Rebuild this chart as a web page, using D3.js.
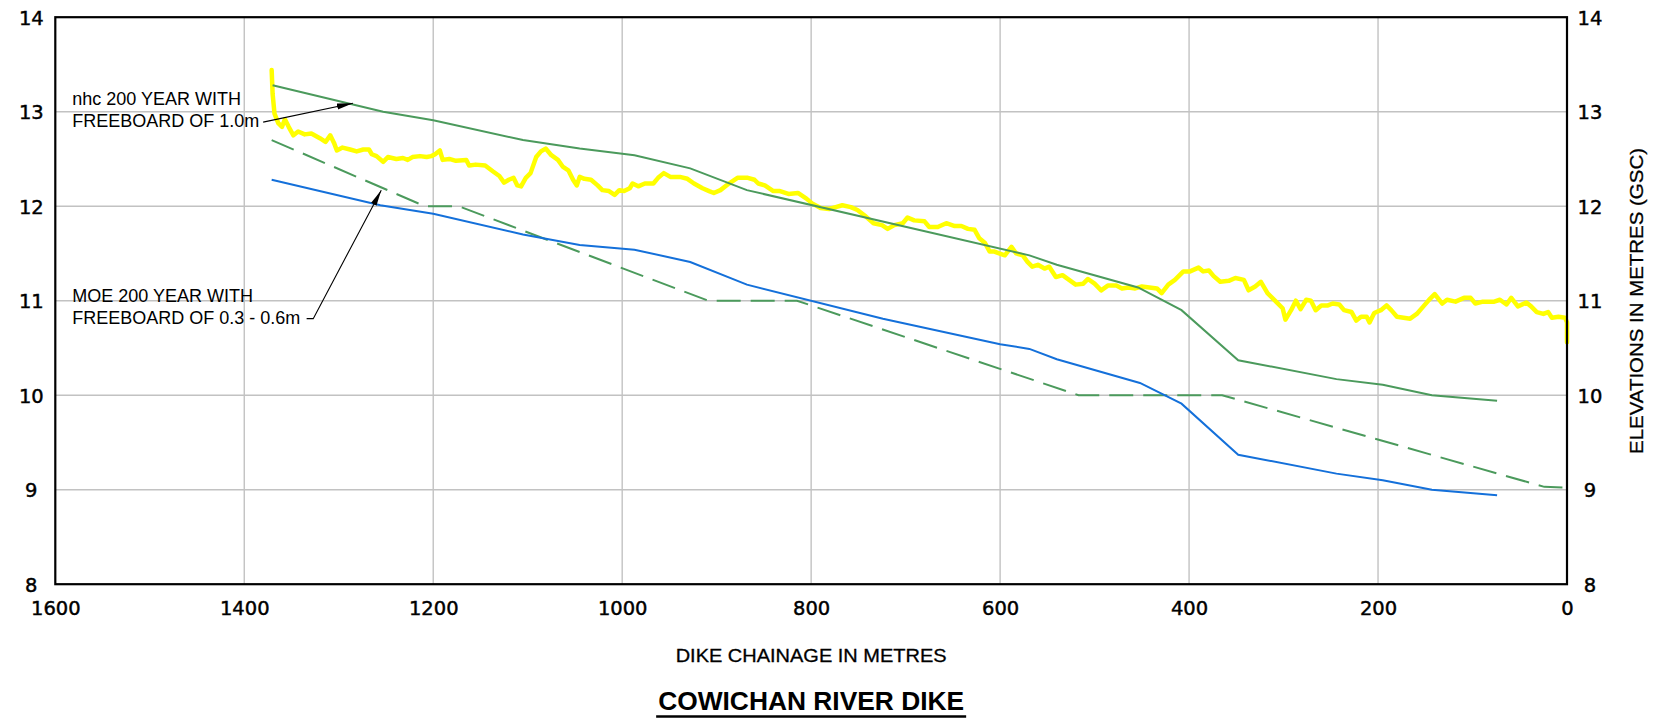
<!DOCTYPE html>
<html><head><meta charset="utf-8">
<script src="https://cdn.jsdelivr.net/npm/d3@7"></script>
<style>body{margin:0;background:#fff;} svg{display:block;}</style>
</head><body>
<svg id="c" width="1655" height="719"></svg>
<script>
// ---- data ----
const xTicks = [1600, 1400, 1200, 1000, 800, 600, 400, 200, 0];
const yTicks = [8, 9, 10, 11, 12, 13, 14];
const xGrid = [1400, 1200, 1000, 800, 600, 400, 200];
const yGrid = [9, 10, 11, 12, 13];

// nhc 200 year with freeboard of 1.0m  [chainage m, elevation m]
const nhcFreeboard = [[1370,13.28],[1253,13.0],[1200,12.91],[1105,12.70],[1045,12.61],[987,12.54],[928,12.40],[868,12.17],[569,11.48],[540,11.38],[454,11.14],[408,10.90],[348,10.37],[244,10.17],[195,10.11],[143,10.00],[74,9.94]];
// 200 year water level (blue)
const waterLevel = [[1371,12.28],[1256,12.01],[1200,11.92],[1105,11.70],[1045,11.59],[987,11.54],[928,11.41],[868,11.17],[724,10.81],[600,10.54],[569,10.49],[540,10.38],[452,10.13],[408,9.91],[348,9.37],[244,9.17],[195,9.10],[143,9.00],[74,8.94]];
// MOE 200 year with freeboard of 0.3 - 0.6m (dashed)
const moeFreeboard = [[1371,12.70],[1209,12.0],[1173,12.0],[909,11.0],[815,11.0],[517,10.0],[365,10.0],[24,9.03],[0,9.02]];
// existing dike crest (yellow)
const dikeCrest = [[1371,13.44],[1370,13.19],[1368,12.98],[1364,12.88],[1360,12.84],[1357,12.92],[1353,12.84],[1348,12.75],[1343,12.79],[1336,12.76],[1329,12.77],[1320,12.72],[1314,12.68],[1309,12.75],[1305,12.67],[1302,12.59],[1296,12.62],[1288,12.60],[1281,12.58],[1274,12.60],[1268,12.60],[1265,12.55],[1260,12.53],[1253,12.47],[1248,12.52],[1239,12.50],[1232,12.51],[1227,12.49],[1222,12.52],[1214,12.53],[1207,12.52],[1202,12.53],[1198,12.55],[1193,12.59],[1190,12.49],[1183,12.50],[1176,12.48],[1165,12.49],[1162,12.43],[1155,12.44],[1145,12.43],[1137,12.37],[1130,12.32],[1125,12.25],[1120,12.28],[1115,12.30],[1111,12.22],[1107,12.21],[1102,12.30],[1097,12.35],[1091,12.52],[1086,12.58],[1081,12.61],[1075,12.54],[1068,12.49],[1063,12.42],[1057,12.38],[1052,12.28],[1048,12.22],[1045,12.31],[1040,12.29],[1033,12.28],[1026,12.22],[1021,12.17],[1014,12.16],[1008,12.12],[1003,12.17],[998,12.16],[992,12.19],[989,12.24],[983,12.21],[976,12.24],[967,12.24],[962,12.30],[956,12.35],[949,12.31],[939,12.31],[931,12.29],[924,12.24],[915,12.19],[908,12.16],[903,12.14],[896,12.17],[887,12.24],[878,12.30],[867,12.30],[860,12.28],
[856,12.24],[849,12.22],[840,12.16],[833,12.16],[824,12.13],[814,12.14],[805,12.08],[799,12.03],[790,11.98],[781,11.97],[774,11.99],[767,12.01],[758,11.99],[751,11.96],[742,11.89],[734,11.82],[725,11.80],[719,11.76],[712,11.80],[703,11.82],[698,11.88],[691,11.85],[680,11.84],[675,11.78],[666,11.78],[657,11.82],[648,11.79],[641,11.79],[634,11.76],[627,11.75],[622,11.66],[616,11.61],[611,11.52],[606,11.52],[601,11.50],[595,11.48],[588,11.57],[583,11.50],[576,11.48],[571,11.41],[566,11.36],[560,11.38],[553,11.34],[548,11.36],[541,11.25],[534,11.27],[527,11.22],[520,11.17],[512,11.18],[507,11.23],[500,11.18],[493,11.11],[486,11.16],[477,11.16],[471,11.13],[464,11.14],[457,11.13],[450,11.15],
[434,11.13],[429,11.08],[422,11.17],[415,11.22],[406,11.31],[399,11.31],[390,11.35],[385,11.31],[379,11.32],[374,11.26],[367,11.20],[358,11.21],[351,11.24],[342,11.22],[337,11.11],[330,11.15],[324,11.20],[317,11.08],[308,10.99],[301,10.92],[298,10.80],[292,10.90],[287,11.00],[282,10.91],[276,11.01],[271,11.00],[266,10.90],[260,10.95],[253,10.95],[248,10.97],[241,10.96],[236,10.90],[228,10.88],[223,10.79],[218,10.83],[212,10.83],[209,10.77],[204,10.87],[197,10.90],[191,10.95],[186,10.90],[180,10.83],[173,10.82],[166,10.81],[159,10.86],[152,10.94],[145,11.02],[140,11.07],[132,10.97],[127,11.01],[118,10.99],[109,11.03],[102,11.03],[97,10.97],[89,10.99],[82,10.99],[77,10.99],[71,11.01],[64,10.96],[59,11.03],[52,10.94],[43,10.98],[38,10.94],[32,10.88],[25,10.86],[20,10.88],[16,10.82],[9,10.83],[2,10.82],[0,10.77],[0,10.56]];

// annotation anchors in data units: text start, leader start, arrow tip
const nhcLabel = ["nhc 200 YEAR WITH", "FREEBOARD OF 1.0m"];
const nhcLabelPos = [1582, 13.07];
const nhcArrow = [[1380, 12.89], [1285, 13.09]];
const moeLabel = ["MOE 200 YEAR WITH", "FREEBOARD OF 0.3 - 0.6m"];
const moeLabelPos = [1582, 10.99];
const moeArrow = [[1334, 10.81], [1327, 10.81], [1255, 12.17]];

// ---- drawing ----
const W = 1655, H = 719;
const m = {left: 55.3, right: 1567, top: 17.2, bottom: 584.2};
const svg = d3.select("#c");
const x = d3.scaleLinear().domain([1600, 0]).range([m.left, m.right]);
const y = d3.scaleLinear().domain([8, 14]).range([m.bottom, m.top]);

svg.append("rect").attr("width", W).attr("height", H).attr("fill", "#fff");

// grid
const g = svg.append("g");
g.selectAll(".vg").data(xGrid).join("line")
  .attr("x1", d => x(d)).attr("x2", d => x(d))
  .attr("y1", y(14)).attr("y2", y(8))
  .attr("stroke", "#c2c2c2").attr("stroke-width", 1.4);
g.selectAll(".hg").data(yGrid).join("line")
  .attr("x1", x(1600)).attr("x2", x(0))
  .attr("y1", d => y(d)).attr("y2", d => y(d))
  .attr("stroke", "#c2c2c2").attr("stroke-width", 1.4);

const line = d3.line().x(d => x(d[0])).y(d => y(d[1]));

svg.append("path").datum(dikeCrest).attr("d", line)
  .attr("fill", "none").attr("stroke", "#ffff00").attr("stroke-width", 4.5)
  .attr("stroke-linejoin", "round").attr("stroke-linecap", "round");
svg.append("path").datum(moeFreeboard).attr("d", line)
  .attr("fill", "none").attr("stroke", "#4b9a5c").attr("stroke-width", 2)
  .attr("stroke-dasharray", "24,10");
svg.append("path").datum(waterLevel).attr("d", line)
  .attr("fill", "none").attr("stroke", "#1470da").attr("stroke-width", 2);
svg.append("path").datum(nhcFreeboard).attr("d", line)
  .attr("fill", "none").attr("stroke", "#4b9a5c").attr("stroke-width", 2);

// border
svg.append("rect")
  .attr("x", x(1600)).attr("y", y(14))
  .attr("width", x(0) - x(1600)).attr("height", y(8) - y(14))
  .attr("fill", "none").attr("stroke", "#000").attr("stroke-width", 2.2);

// axes
const tickFont = "DejaVu Sans, sans-serif";
function styleTicks(sel) {
  sel.attr("font-family", tickFont).attr("font-size", 19.5).attr("fill", "#000")
    .attr("stroke", "#000").attr("stroke-width", 0.45);
}
const ax1 = svg.append("g").attr("transform", `translate(0,${m.bottom})`)
  .call(d3.axisBottom(x).tickValues(xTicks).tickSize(0).tickFormat(d3.format("d")));
ax1.select(".domain").remove();
ax1.selectAll("text").attr("y", 31).attr("dy", 0).call(styleTicks);

const ax2 = svg.append("g").attr("transform", `translate(${m.left},0)`)
  .call(d3.axisLeft(y).tickValues(yTicks).tickSize(0).tickFormat(d3.format("d")));
ax2.select(".domain").remove();
ax2.selectAll("text").attr("x", -24).attr("dy", "0.36em").attr("text-anchor", "middle").call(styleTicks);

const ax3 = svg.append("g").attr("transform", `translate(${m.right},0)`)
  .call(d3.axisRight(y).tickValues(yTicks).tickSize(0).tickFormat(d3.format("d")));
ax3.select(".domain").remove();
ax3.selectAll("text").attr("x", 23).attr("dy", "0.36em").attr("text-anchor", "middle").call(styleTicks);

// axis titles
svg.append("text").attr("x", x(800)).attr("y", 662)
  .attr("text-anchor", "middle").attr("font-family", "Liberation Sans, Arial, sans-serif")
  .attr("font-size", 19).attr("textLength", 271).attr("lengthAdjust", "spacingAndGlyphs")
  .attr("stroke", "#000").attr("stroke-width", 0.3)
  .text("DIKE  CHAINAGE  IN  METRES");

svg.append("text").attr("transform", `translate(1643,301) rotate(-90)`)
  .attr("text-anchor", "middle").attr("font-family", "Liberation Sans, Arial, sans-serif")
  .attr("font-size", 19).attr("textLength", 306).attr("lengthAdjust", "spacingAndGlyphs")
  .attr("stroke", "#000").attr("stroke-width", 0.3)
  .text("ELEVATIONS  IN  METRES  (GSC)");

// main title
svg.append("text").attr("x", x(800)).attr("y", 710)
  .attr("text-anchor", "middle").attr("font-family", "Liberation Sans, Arial, sans-serif")
  .attr("font-size", 25).attr("font-weight", "bold")
  .attr("textLength", 306).attr("lengthAdjust", "spacingAndGlyphs")
  .text("COWICHAN RIVER DIKE");
svg.append("line").attr("x1", x(800) - 155).attr("x2", x(800) + 155)
  .attr("y1", 716.5).attr("y2", 716.5).attr("stroke", "#000").attr("stroke-width", 2.5);

// annotations
const defs = svg.append("defs");
defs.append("marker").attr("id", "arr").attr("viewBox", "0 0 16 8")
  .attr("refX", 16).attr("refY", 4).attr("markerWidth", 16).attr("markerHeight", 8)
  .attr("markerUnits", "userSpaceOnUse").attr("orient", "auto")
  .append("path").attr("d", "M0,1 L16,4 L0,7 Z").attr("fill", "#000");

function label(lines, pos) {
  const t = svg.append("text").attr("font-family", "Liberation Sans, Arial, sans-serif")
    .attr("font-size", 18).attr("fill", "#000");
  lines.forEach((s, i) => {
    t.append("tspan").attr("x", x(pos[0])).attr("y", y(pos[1]) + i * 22).text(s);
  });
}
label(nhcLabel, nhcLabelPos);
label(moeLabel, moeLabelPos);

svg.append("path").datum(nhcArrow).attr("d", line)
  .attr("fill", "none").attr("stroke", "#000").attr("stroke-width", 1.1)
  .attr("marker-end", "url(#arr)");
svg.append("path").datum(moeArrow).attr("d", line)
  .attr("fill", "none").attr("stroke", "#000").attr("stroke-width", 1.1)
  .attr("marker-end", "url(#arr)");
</script>
</body></html>
